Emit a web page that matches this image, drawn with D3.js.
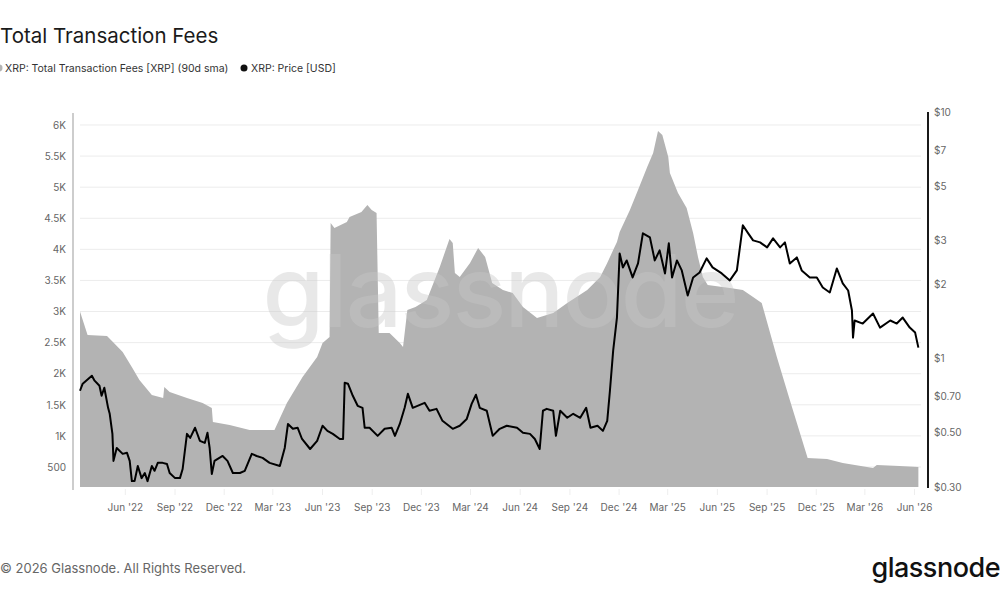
<!DOCTYPE html>
<html>
<head>
<meta charset="utf-8">
<script src="https://cdn.jsdelivr.net/npm/d3@7"></script>
<style>
  body { margin: 0; background: #fff; }
  svg { display: block; font-family: Inter, "Noto Sans", sans-serif; }
</style>
</head>
<body>
<div id="chart"></div>
<script>
const width = 1000
const height = 600

// XRP: Total Transaction Fees [XRP] (90d sma)
const feeDates = ["2022-03-10","2022-03-24","2022-04-29","2022-05-10","2022-05-28","2022-06-15","2022-06-28","2022-07-21","2022-08-11","2022-08-13","2022-08-23","2022-09-24","2022-10-23","2022-11-09","2022-11-11","2022-12-12","2023-01-18","2023-03-05","2023-03-28","2023-04-26","2023-05-23","2023-06-02","2023-06-15","2023-06-17","2023-06-24","2023-07-17","2023-07-22","2023-08-13","2023-08-24","2023-09-01","2023-09-10","2023-09-14","2023-10-04","2023-10-23","2023-10-29","2023-11-06","2023-11-21","2023-12-12","2024-01-05","2024-01-23","2024-01-29","2024-02-02","2024-02-11","2024-03-01","2024-03-16","2024-03-29","2024-04-11","2024-05-01","2024-05-19","2024-06-07","2024-07-03","2024-08-02","2024-08-28","2024-10-04","2024-10-28","2024-11-10","2024-11-21","2024-11-28","2024-12-03","2024-12-22","2025-01-06","2025-01-23","2025-02-03","2025-02-12","2025-02-20","2025-03-03","2025-03-06","2025-03-21","2025-04-06","2025-04-18","2025-04-27","2025-05-06","2025-05-15","2025-06-25","2025-07-19","2025-08-07","2025-08-23","2025-09-20","2025-10-14","2025-11-16","2025-12-22","2026-01-20","2026-03-17","2026-03-24","2026-05-05","2026-06-09"]
const feeValues = [3000,2623,2606,2510,2349,2092,1899,1658,1610,1786,1706,1610,1529,1449,1224,1175,1095,1095,1529,1947,2269,2494,2590,4424,4343,4440,4520,4600,4713,4633,4585,2655,2655,2494,2430,3025,3073,3185,3716,4166,4102,3620,3555,3780,4022,3877,3459,3346,3298,3073,2896,2976,3137,3346,3555,3780,3989,4118,4279,4633,4954,5324,5549,5903,5839,5485,5228,4906,4665,4263,3877,3555,3427,3378,3346,3234,3137,2269,1577,645,629,564,484,532,516,500]

// XRP: Price [USD]
const priceDates = ["2022-03-10","2022-03-15","2022-04-01","2022-04-06","2022-04-15","2022-04-19","2022-04-24","2022-05-01","2022-05-04","2022-05-09","2022-05-11","2022-05-17","2022-05-28","2022-06-05","2022-06-10","2022-06-14","2022-06-19","2022-06-25","2022-07-02","2022-07-08","2022-07-13","2022-07-21","2022-07-26","2022-08-01","2022-08-10","2022-08-18","2022-08-23","2022-09-02","2022-09-11","2022-09-16","2022-09-24","2022-09-30","2022-10-09","2022-10-18","2022-10-27","2022-11-01","2022-11-05","2022-11-09","2022-11-14","2022-11-23","2022-11-29","2022-12-08","2022-12-18","2022-12-31","2023-01-09","2023-01-22","2023-01-31","2023-02-11","2023-02-24","2023-03-15","2023-03-24","2023-03-30","2023-04-08","2023-04-17","2023-04-25","2023-05-10","2023-05-23","2023-06-02","2023-06-11","2023-06-21","2023-07-04","2023-07-10","2023-07-13","2023-07-19","2023-07-28","2023-08-06","2023-08-15","2023-08-19","2023-08-28","2023-09-12","2023-09-25","2023-10-08","2023-10-14","2023-10-23","2023-11-01","2023-11-07","2023-11-16","2023-12-08","2023-12-17","2023-12-30","2024-01-10","2024-01-29","2024-02-11","2024-02-24","2024-03-04","2024-03-12","2024-03-19","2024-04-01","2024-04-12","2024-04-25","2024-05-08","2024-05-27","2024-06-07","2024-06-20","2024-06-29","2024-07-08","2024-07-14","2024-07-21","2024-08-02","2024-08-07","2024-08-15","2024-08-28","2024-09-08","2024-09-21","2024-10-02","2024-10-10","2024-10-23","2024-11-02","2024-11-10","2024-11-15","2024-11-21","2024-11-28","2024-12-03","2024-12-09","2024-12-16","2024-12-27","2025-01-06","2025-01-15","2025-01-28","2025-02-06","2025-02-15","2025-02-25","2025-03-04","2025-03-10","2025-03-19","2025-03-28","2025-04-08","2025-04-18","2025-04-30","2025-05-13","2025-05-24","2025-06-10","2025-06-25","2025-07-08","2025-07-19","2025-07-29","2025-08-07","2025-08-20","2025-09-02","2025-09-13","2025-09-26","2025-10-05","2025-10-14","2025-10-27","2025-11-05","2025-11-20","2025-12-03","2025-12-14","2025-12-27","2026-01-09","2026-01-20","2026-01-30","2026-02-06","2026-02-08","2026-02-11","2026-02-26","2026-03-17","2026-03-30","2026-04-18","2026-04-30","2026-05-11","2026-05-24","2026-06-03","2026-06-09"]
const priceValues = [0.738,0.788,0.849,0.811,0.773,0.704,0.759,0.629,0.595,0.493,0.383,0.432,0.409,0.413,0.383,0.317,0.317,0.365,0.326,0.342,0.317,0.365,0.349,0.376,0.376,0.372,0.342,0.326,0.326,0.355,0.493,0.475,0.522,0.462,0.453,0.498,0.432,0.339,0.383,0.394,0.401,0.383,0.342,0.342,0.349,0.409,0.401,0.394,0.376,0.365,0.432,0.541,0.517,0.522,0.470,0.428,0.462,0.532,0.507,0.493,0.470,0.470,0.795,0.788,0.704,0.641,0.629,0.522,0.522,0.484,0.517,0.522,0.484,0.541,0.629,0.717,0.629,0.659,0.612,0.623,0.557,0.517,0.532,0.567,0.653,0.711,0.629,0.612,0.484,0.517,0.532,0.522,0.498,0.493,0.470,0.428,0.612,0.623,0.612,0.484,0.612,0.573,0.595,0.573,0.629,0.522,0.532,0.507,0.557,0.738,1.074,1.463,2.666,2.338,2.496,2.129,2.427,3.216,3.096,2.496,2.742,2.210,2.928,2.129,2.496,2.273,1.798,2.129,2.230,2.544,2.338,2.210,2.070,2.273,3.466,3.216,3.011,2.955,2.820,3.068,2.820,2.955,2.427,2.568,2.273,2.129,2.129,1.938,1.849,2.316,2.012,1.884,1.562,1.213,1.423,1.383,1.519,1.332,1.423,1.383,1.463,1.332,1.271,1.104]

const xTicks = ["2022-06-01","2022-09-01","2022-12-01","2023-03-01","2023-06-01","2023-09-01","2023-12-01","2024-03-01","2024-06-01","2024-09-01","2024-12-01","2025-03-01","2025-06-01","2025-09-01","2025-12-01","2026-03-01","2026-06-01"]
const feeTicks = [500,1000,1500,2000,2500,3000,3500,4000,4500,5000,5500,6000]
const priceTicks = [0.3,0.5,0.7,1,2,3,5,7,10]

const parseDate = d3.utcParse("%Y-%m-%d")

let fees = feeDates.map((d, i) => ({date: parseDate(d), value: feeValues[i]}))
let prices = priceDates.map((d, i) => ({date: parseDate(d), value: priceValues[i]}))

let x = d3.scaleUtc()
  .domain([parseDate("2022-03-10"), parseDate("2026-06-12")])
  .range([80, 920])

let yFee = d3.scaleLinear()
  .domain([178, 6209])
  .range([487, 112])

let yPrice = d3.scaleLog()
  .domain([0.3, 10])
  .range([487, 112])

let svg = d3.select("#chart")
  .append("svg")
  .attr("width", width)
  .attr("height", height)

// title + legend
svg.append("text")
  .attr("x", 0)
  .attr("y", 43)
  .attr("font-size", 20.5)
  .attr("fill", "#1a1a1a")
  .text("Total Transaction Fees")

let legend = svg.append("g").attr("font-size", 10.5).attr("fill", "#333")
legend.append("circle").attr("cx", -1).attr("cy", 68).attr("r", 3.5).attr("fill", "#b3b3b3")
legend.append("text").attr("x", 5).attr("y", 72).text("XRP: Total Transaction Fees [XRP] (90d sma)")
legend.append("circle").attr("cx", 244).attr("cy", 68).attr("r", 3.5).attr("fill", "#111")
legend.append("text").attr("x", 251).attr("y", 72).text("XRP: Price [USD]")

// grid
svg.append("g")
  .selectAll("line")
  .data(feeTicks)
  .enter()
  .append("line")
  .attr("x1", 80)
  .attr("x2", 921)
  .attr("y1", d => yFee(d))
  .attr("y2", d => yFee(d))
  .attr("stroke", "#ececec")
  .attr("stroke-width", 1)

// fees area
svg.append("path")
  .datum(fees)
  .attr("fill", "#b3b3b3")
  .attr("d", d3.area()
    .x(d => x(d.date))
    .y0(yFee.range()[0])
    .y1(d => yFee(d.value)))

// watermark
svg.append("text")
  .attr("x", 500)
  .attr("y", 327)
  .attr("text-anchor", "middle")
  .attr("font-size", 100)
  .attr("font-weight", 500)
  .attr("letter-spacing", -2)
  .attr("fill", "#c8c8c8")
  .attr("opacity", 0.4)
  .text("glassnode")

// price line
svg.append("path")
  .datum(prices)
  .attr("fill", "none")
  .attr("stroke", "#000")
  .attr("stroke-width", 2)
  .attr("stroke-linejoin", "round")
  .attr("d", d3.line()
    .x(d => x(d.date))
    .y(d => yPrice(d.value)))

// left axis
let leftAxis = svg.append("g")
  .attr("transform", "translate(73,0)")
  .call(d3.axisLeft(yFee)
    .tickValues(feeTicks)
    .tickSize(0)
    .tickPadding(7)
    .tickFormat(d => d < 1000 ? d : d3.format("~")(d / 1000) + "K"))
leftAxis.select(".domain").attr("stroke", "#bdbdbd").attr("stroke-width", 1.5).attr("d", "M0,113V490")
leftAxis.selectAll("text").attr("fill", "#666").attr("font-size", 10).attr("font-family", "Inter, sans-serif")

// right axis
let rightAxis = svg.append("g")
  .attr("transform", "translate(928,0)")
  .call(d3.axisRight(yPrice)
    .tickValues(priceTicks)
    .tickSize(0)
    .tickPadding(6)
    .tickFormat(d => d < 1 ? "$" + d3.format(".2f")(d) : "$" + d))
rightAxis.select(".domain").attr("stroke", "#000").attr("stroke-width", 1.8).attr("d", "M0,112V488")
rightAxis.selectAll("text").attr("fill", "#666").attr("font-size", 10).attr("font-family", "Inter, sans-serif")

// bottom axis
let bottomAxis = svg.append("g")
  .attr("transform", "translate(0,489)")
  .call(d3.axisBottom(x)
    .tickValues(xTicks.map(parseDate))
    .tickSize(6)
    .tickPadding(9)
    .tickFormat(d3.utcFormat("%b '%y")))
bottomAxis.select(".domain").remove()
bottomAxis.selectAll("line").attr("stroke", "#eeeeee")
bottomAxis.selectAll("text").attr("fill", "#666").attr("font-size", 10).attr("font-family", "Inter, sans-serif")

// footer
svg.append("text")
  .attr("x", 0)
  .attr("y", 573)
  .attr("font-size", 13)
  .attr("fill", "#666")
  .text("© 2026 Glassnode. All Rights Reserved.")

svg.append("text")
  .attr("x", 1000)
  .attr("y", 577)
  .attr("text-anchor", "end")
  .attr("font-size", 27)
  .attr("font-weight", 500)
  .attr("letter-spacing", -0.5)
  .attr("fill", "#111")
  .text("glassnode")
</script>
</body>
</html>
